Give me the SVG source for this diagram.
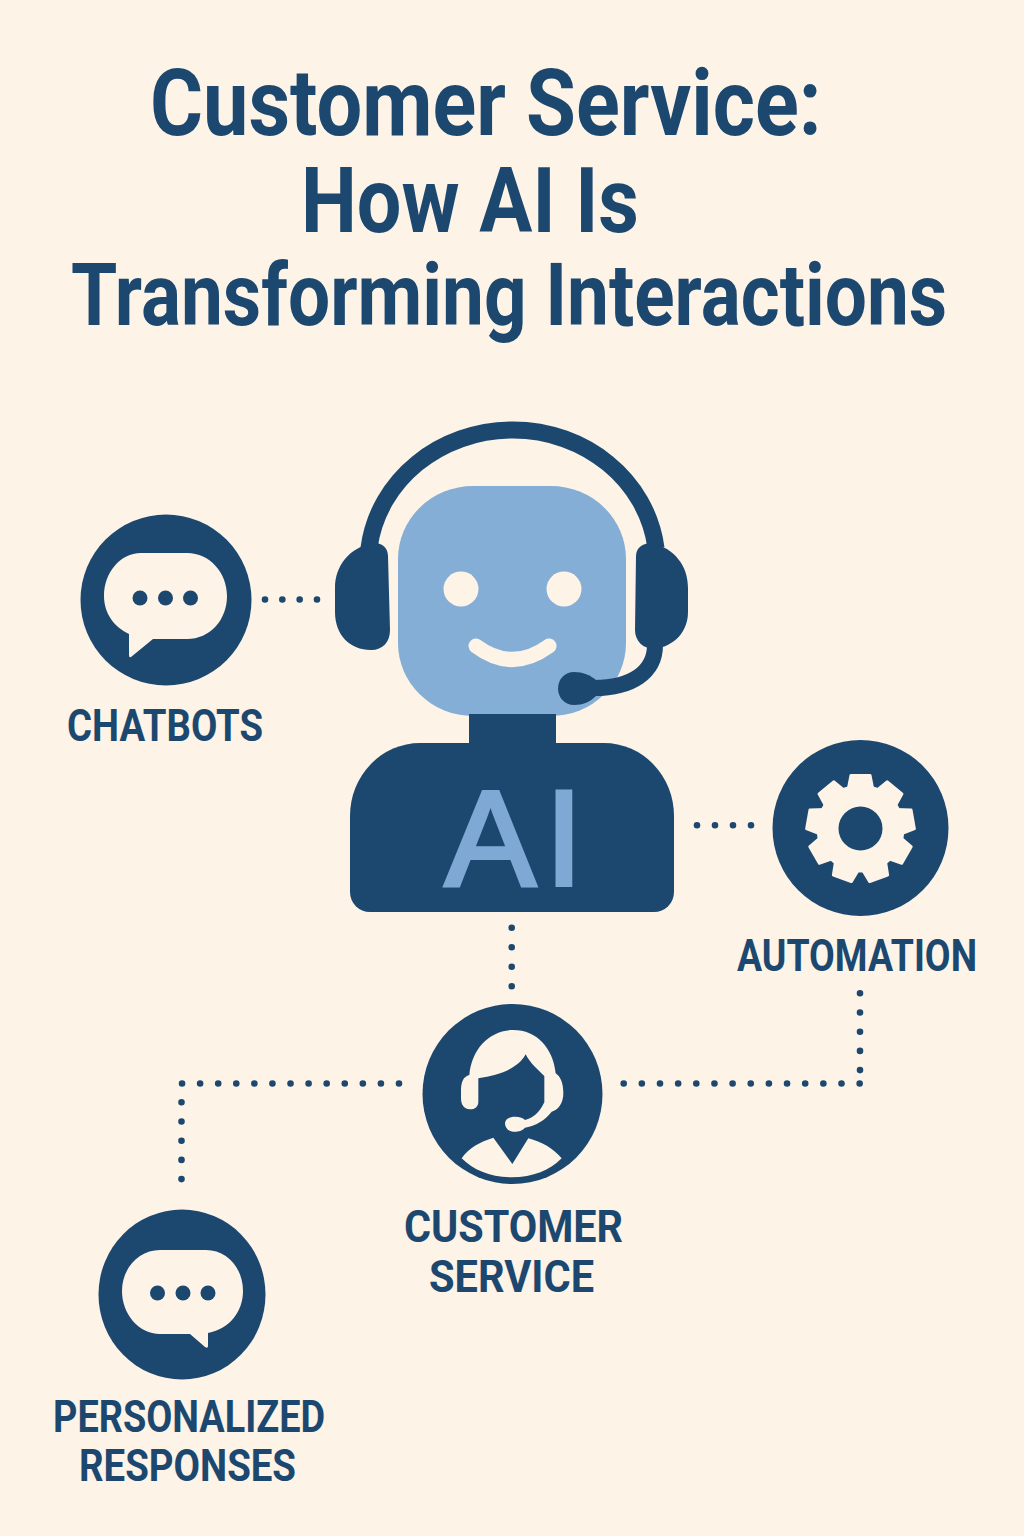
<svg xmlns="http://www.w3.org/2000/svg" xmlns:xlink="http://www.w3.org/1999/xlink" width="1024" height="1536" viewBox="0 0 1024 1536">
  <style>
    .bg { fill: #fdf3e6; }
    .dark { fill: #1c4870; }
    .cream { fill: #fdf3e6; }
    .light { fill: #85aed6; }
    .dots { fill: none; stroke: #1c4870; stroke-width: 6.6; stroke-linecap: round; }
    .title { font-family: "Roboto", "Liberation Sans", sans-serif; font-weight: 700; fill: #1c4870; }
    .label { font-family: "Roboto", "Liberation Sans", sans-serif; font-weight: 700; font-size: 45px; fill: #1c4870; }
    .ai { font-family: "Liberation Sans", Arial, sans-serif; font-size: 136px; fill: #7fa9d4; stroke: #7fa9d4; stroke-width: 4; }
  </style>
  <defs>
    <path id="tooth" d="M-14 -38 L-11 -53.500 Q-10.800 -54.500 -9.500 -54.500 H9.500 Q10.800 -54.500 11 -53.500 L14 -38 Z"/>
  </defs>
  <rect class="bg" width="1024" height="1536"/>

  <g id="title">
    <text class="title" transform="translate(150 135) scale(0.87 1)" font-size="92" textLength="772" lengthAdjust="spacingAndGlyphs">Customer Service:</text>
    <text class="title" transform="translate(301 232) scale(0.87 1)" font-size="90" textLength="388.500" lengthAdjust="spacingAndGlyphs">How AI Is</text>
    <text class="title" transform="translate(71 325) scale(0.854 1)" font-size="87" textLength="1026" lengthAdjust="spacingAndGlyphs">Transforming Interactions</text>
  </g>

  <g id="connectors">
    <path class="dots" stroke-dasharray="0 17.33" d="M265 599.500 H317.500"/>
    <path class="dots" stroke-dasharray="0 18" d="M697 825.300 H751.500"/>
    <path class="dots" stroke-dasharray="0 19.5" d="M511.700 927.700 V986.800"/>
    <path class="dots" stroke-dasharray="0 18.15" d="M623.700 1083.500 H860.200"/>
    <path class="dots" stroke-dasharray="0 19.2" d="M860 993.300 V1070.600"/>
    <path class="dots" stroke-dasharray="0 18.08" d="M399 1083.500 H181.500"/>
    <path class="dots" stroke-dasharray="0 19.2" d="M181.500 1102.300 V1179.800"/>
  </g>

  <g id="ai-agent">
    <path fill="none" stroke="#1c4870" stroke-width="17" d="M369 548 C378 480 440 430 513 430 C585 430 647 480 656 548"/>
    <path class="dark" d="M372 543 C350 548 335 565 335 588 V612 C335 635 350 650 371 650 C383 650 390 642 390 630 L388 556 C388 548 382 543 375 543 Z"/>
    <path class="dark" d="M653 543 C674 549 688 565 688 588 V612 C688 632 674 646 655 649 C643 649 635 641 635 630 L636 556 C636 548 643 543 651 543 Z"/>
    <rect class="light" x="398" y="486" width="228" height="230" rx="75" ry="73"/>
    <circle class="cream" cx="461" cy="589" r="17.500"/>
    <circle class="cream" cx="564" cy="589" r="17.500"/>
    <path fill="none" stroke="#fdf3e6" stroke-width="15" stroke-linecap="round" d="M476 646 Q512 673 549 646"/>
    <path fill="none" stroke="#1c4870" stroke-width="16" d="M655 645 C655 672 632 688 594 688"/>
    <path class="dark" d="M574 672 C583 672 590 675 596 680 L596 696 C590 702 583 705 574 705 C565 705 558 698 558 688.500 C558 679 565 672 574 672 Z"/>
    <rect class="dark" x="469" y="714" width="87" height="32"/>
    <path class="dark" d="M420 743 H604 A70 73 0 0 1 674 816 V892 A20 20 0 0 1 654 912 H370 A20 20 0 0 1 350 892 V816 A70 73 0 0 1 420 743 Z"/>
    <text class="ai" x="445 545" y="885">AI</text>
  </g>

  <g id="chatbots">
    <circle class="dark" cx="166" cy="600" r="85.500"/>
    <path class="cream" d="M141 553 H187 C210 553 227 573 227 596 C227 620 210 639 187 639 H153 L131 657 Q129 658 129 655 L129 634 C114 627 104 613 104 596 C104 573 120 553 141 553 Z"/>
    <circle class="dark" cx="140" cy="598" r="7.500"/>
    <circle class="dark" cx="165.500" cy="598" r="7.500"/>
    <circle class="dark" cx="190.500" cy="598" r="7.500"/>
    <text class="label" x="67" y="741" textLength="196" lengthAdjust="spacingAndGlyphs">CHATBOTS</text>
  </g>

  <g id="automation">
    <circle class="dark" cx="860.500" cy="828" r="88"/>
    <g transform="translate(860.500 828.500)">
      <circle class="cream" r="44"/>
      <use xlink:href="#tooth" class="cream"/>
      <use xlink:href="#tooth" class="cream" transform="rotate(40)"/>
      <use xlink:href="#tooth" class="cream" transform="rotate(80)"/>
      <use xlink:href="#tooth" class="cream" transform="rotate(120)"/>
      <use xlink:href="#tooth" class="cream" transform="rotate(160)"/>
      <use xlink:href="#tooth" class="cream" transform="rotate(200)"/>
      <use xlink:href="#tooth" class="cream" transform="rotate(240)"/>
      <use xlink:href="#tooth" class="cream" transform="rotate(280)"/>
      <use xlink:href="#tooth" class="cream" transform="rotate(320)"/>
      <circle class="dark" r="22"/>
    </g>
    <text class="label" x="737" y="971" textLength="240" lengthAdjust="spacingAndGlyphs">AUTOMATION</text>
  </g>

  <g id="customer-service">
    <circle class="dark" cx="512.500" cy="1094" r="90"/>
    <g transform="translate(410 995) scale(0.33333)">
      <path class="cream" d="M153 290 C153 260 160 245 178 240 C185 160 240 105 310 105 C380 105 430 160 437 235 C452 245 460 265 460 295 C460 325 445 345 425 350 C405 375 380 392 345 398 C335 410 320 410 310 410 C295 410 285 398 285 385 C285 372 298 365 315 365 C330 365 340 370 345 375 C370 370 390 350 403 322 L403 243 C385 225 360 205 347 178 C325 220 270 240 205 250 L205 320 C205 335 195 343 180 343 C163 343 153 330 153 310 Z"/>
      <path class="cream" d="M155 490 C175 460 210 440 250 428 L307 507 L355 430 C395 440 430 460 455 490 C420 525 370 547 305 547 C240 547 190 525 155 490 Z"/>
    </g>
    <text class="label" x="404" y="1241.500" textLength="219" lengthAdjust="spacingAndGlyphs">CUSTOMER</text>
    <text class="label" x="429" y="1291.500" textLength="165" lengthAdjust="spacingAndGlyphs">SERVICE</text>
  </g>

  <g id="personalized-responses">
    <ellipse class="dark" cx="182" cy="1294.500" rx="83.500" ry="85"/>
    <path class="cream" d="M160 1250 H206 C227 1250 243 1268 243 1291 C243 1311 230 1329 208 1333 L208 1346 Q208 1349 205 1347 L190 1334 H160 C139 1334 122 1314 122 1291 C122 1268 139 1250 160 1250 Z"/>
    <circle class="dark" cx="157.500" cy="1293" r="7.500"/>
    <circle class="dark" cx="183" cy="1293" r="7.500"/>
    <circle class="dark" cx="208" cy="1293" r="7.500"/>
    <text class="label" x="53" y="1431.500" textLength="272" lengthAdjust="spacingAndGlyphs">PERSONALIZED</text>
    <text class="label" x="79" y="1480.500" textLength="217" lengthAdjust="spacingAndGlyphs">RESPONSES</text>
  </g>
</svg>
